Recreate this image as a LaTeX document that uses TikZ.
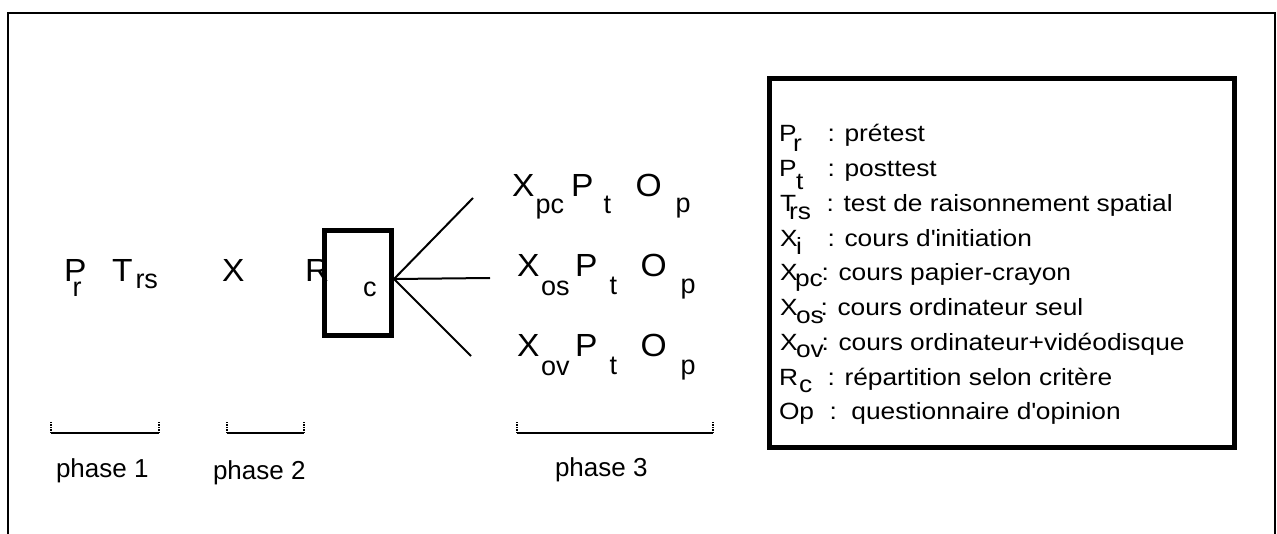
\documentclass[tikz,border=0pt]{standalone}
\usepackage{fontspec}
\setmainfont{Liberation Sans}
\newfontfamily\diagwide{Liberation Sans}[FakeStretch=1.05]
\newfontfamily\legwide{Liberation Sans}[FakeStretch=1.12]
\newcommand\fmain{\diagwide\fontsize{32}{32}\selectfont}
\newcommand\fsubs{\fontsize{27}{27}\selectfont}
\newcommand\fleg{\legwide\fontsize{23.5}{23.5}\selectfont}
\newcommand\fphase{\fontsize{26}{26}\selectfont}
\begin{document}
\begin{tikzpicture}[x=1pt,y=-1pt,
  ttxt/.style={anchor=base west, inner sep=0pt, outer sep=0pt},
  dbig/.style={ttxt, font=\fmain},
  dsub/.style={ttxt, font=\fsubs},
  ltxt/.style={ttxt, font=\fleg},
  phtxt/.style={ttxt, font=\fphase},
  frameline/.style={line width=2pt},
  heavybox/.style={draw, line width=5pt, inner sep=0pt},
  branch/.style={line width=2pt},
  bracketline/.style={line width=2pt},
  bracketend/.style={line width=1.6pt, dash pattern=on 1.5pt off 1pt}]
\useasboundingbox (0,0) rectangle (1277,534);
% outer frame (open at bottom)
\draw[frameline] (7.5,534) -- (7.5,13.5) -- (1275,13.5) -- (1275,534);

% phase 1 / phase 2 symbols
\node[dbig] (pr) at (64,282) {P};
\node[dsub] (prs) at (72.5,297) {r};
\node[dbig] (trs) at (112,282) {T};
\node[dsub] (trss) at (135.5,289) {rs};
\node[dbig] (xi) at (222,282) {X};
\node[dbig] (rr) at (305,282) {R};
\node[heavybox, minimum width=67pt, minimum height=105pt] (rc) at (358,283) {};
\node[dsub] (rcs) at (363,297) {c};

% branches
\coordinate (hub) at ([yshift=4pt]rc.east);
\coordinate (b1) at (473,198);
\coordinate (b2) at (490,278);
\coordinate (b3) at (471,356);
\draw[branch] (hub) -- (b1);
\draw[branch] (hub) -- (b2);
\draw[branch] (hub) -- (b3);

% phase 3 rows
\node[dbig] (x1) at (512,197) {X};
\node[dsub] (x1s) at (535.5,214) {pc};
\node[dbig] (p1) at (571,197) {P};
\node[dsub] (p1s) at (603.5,214) {t};
\node[dbig] (o1) at (635.5,197) {O};
\node[dsub] (o1s) at (675.5,213) {p};

\node[dbig] (x2) at (517,277) {X};
\node[dsub] (x2s) at (541,296) {os};
\node[dbig] (p2) at (575,277) {P};
\node[dsub] (p2s) at (609.5,295) {t};
\node[dbig] (o2) at (640.5,277) {O};
\node[dsub] (o2s) at (680.5,294) {p};

\node[dbig] (x3) at (517,357) {X};
\node[dsub] (x3s) at (541,376) {ov};
\node[dbig] (p3) at (575,357) {P};
\node[dsub] (p3s) at (609.5,375) {t};
\node[dbig] (o3) at (640.5,357) {O};
\node[dsub] (o3s) at (680.5,374) {p};

% brackets
\draw[bracketline] (51,433) -- (159,433);
\draw[bracketend] (51,433) -- (51,421);
\draw[bracketend] (159,433) -- (159,421);
\draw[bracketline] (227,433) -- (304,433);
\draw[bracketend] (227,433) -- (227,421);
\draw[bracketend] (304,433) -- (304,421);
\draw[bracketline] (517,433) -- (713,433);
\draw[bracketend] (517,433) -- (517,421);
\draw[bracketend] (713,433) -- (713,421);

\node[phtxt] (ph1) at (56,477) {phase 1};
\node[phtxt] (ph2) at (213,479) {phase 2};
\node[phtxt] (ph3) at (555,476) {phase 3};

% legend
\node[heavybox, minimum width=465pt, minimum height=369pt] (legend) at (1002,263) {};

\node[ltxt] (l1a) at (779,142) {P};
\node[ltxt] (l1b) at (793,152) {r};
\node[ltxt] (l1c) at (827.5,142) {: prétest};

\node[ltxt] (l2a) at (779,176.75) {P};
\node[ltxt] (l2b) at (796,190) {t};
\node[ltxt] (l2c) at (827.5,176.75) {: posttest};

\node[ltxt] (l3a) at (780,211.5) {T};
\node[ltxt] (l3b) at (789,219.5) {rs};
\node[ltxt] (l3c) at (826.5,211.5) {: test de raisonnement spatial};

\node[ltxt] (l4a) at (780,246.25) {X};
\node[ltxt] (l4b) at (796,254.25) {i};
\node[ltxt] (l4c) at (827.5,246.25) {: cours d\textquotesingle initiation};

\node[ltxt] (l5a) at (780,281) {X};
\node[ltxt] (l5b) at (795,287) {pc};
\node[ltxt] (l5c) at (821.5,281) {: cours papier-crayon};

\node[ltxt] (l6a) at (780,315.75) {X};
\node[ltxt] (l6b) at (796,323.75) {os};
\node[ltxt] (l6c) at (820.5,315.75) {: cours ordinateur seul};

\node[ltxt] (l7a) at (780,350.5) {X};
\node[ltxt] (l7b) at (796,357.5) {ov};
\node[ltxt] (l7c) at (821.5,350.5) {: cours ordinateur+vidéodisque};

\node[ltxt] (l8a) at (779,385.25) {R};
\node[ltxt] (l8b) at (799,392.25) {c};
\node[ltxt] (l8c) at (827.5,385.25) {: répartition selon critère};

\node[ltxt] (l9a) at (779,420) {Op};
\node[ltxt] (l9c) at (829.5,420) {:~~questionnaire d\textquotesingle opinion};
\end{tikzpicture}
\end{document}
